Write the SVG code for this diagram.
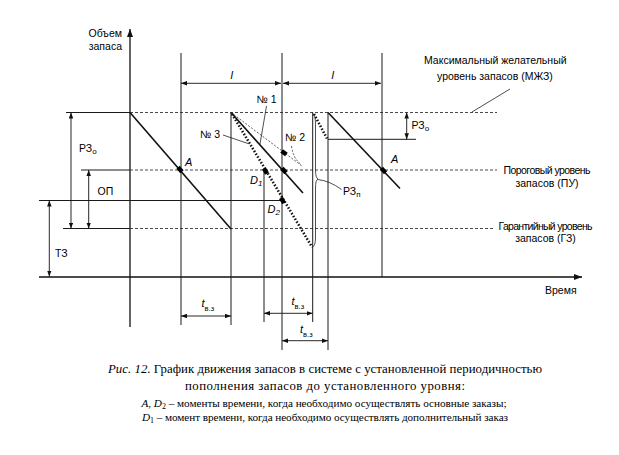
<svg xmlns="http://www.w3.org/2000/svg" width="619" height="455" viewBox="0 0 619 455">
<style>
.bg{fill:#fff}
.ax{stroke:#111;stroke-width:1.3;fill:none}
.ln{stroke:#1a1a1a;stroke-width:1;fill:none}
.th{stroke:#111;stroke-width:1.6;fill:none}
.ds{stroke:#333;stroke-width:0.9;fill:none;stroke-dasharray:3 2}
.dt{stroke:#111;stroke-width:2.6;fill:none;stroke-dasharray:1.5 1.8}
.tn{stroke:#333;stroke-width:0.8;fill:none;stroke-dasharray:2 1.6}
.ld{stroke:#222;stroke-width:0.8;fill:none}
.dim{stroke:#111;stroke-width:0.9;fill:none;marker-start:url(#ah);marker-end:url(#ah)}
.mk{fill:#000}
.t{font-family:"Liberation Sans",Arial,sans-serif;font-size:10.5px;fill:#000}
.ti{font-family:"Liberation Sans",Arial,sans-serif;font-size:11px;font-style:italic;fill:#000}
.cap{font-family:"Liberation Serif","Times New Roman",serif;fill:#000}
</style>
<defs>
<marker id="ah" viewBox="0 0 8 6" refX="8" refY="3" markerWidth="6" markerHeight="4.5" markerUnits="userSpaceOnUse" orient="auto-start-reverse">
<path d="M0,0 L8,3 L0,6 z" fill="#111"/>
</marker>
<marker id="axh" viewBox="0 0 8 6" refX="8" refY="3" markerWidth="8" markerHeight="6" markerUnits="userSpaceOnUse" orient="auto">
<path d="M0,0 L8,3 L0,6 z" fill="#111"/>
</marker>
</defs>
<rect class="bg" x="0" y="0" width="619" height="455"/>

<g id="axes">
<line class="ax" x1="130" y1="327" x2="130" y2="29" marker-end="url(#axh)"/>
<line class="ax" x1="39" y1="277" x2="582" y2="277" marker-end="url(#axh)"/>
<text class="t" x="122" y="37" text-anchor="end">Объем</text>
<text class="t" x="122" y="49.5" text-anchor="end">запаса</text>
<text class="t" x="545" y="293.5">Время</text>
</g>

<g id="levels">
<line class="ln" x1="66" y1="112.5" x2="130" y2="112.5"/>
<line class="ds" x1="130" y1="112.5" x2="497" y2="112.5"/>
<line class="ln" x1="81" y1="170" x2="130" y2="170"/>
<line class="ds" x1="130" y1="170" x2="497" y2="170"/>
<line class="ln" x1="39" y1="200.5" x2="282" y2="200.5"/>
<line class="ln" x1="63" y1="228.5" x2="130" y2="228.5"/>
<line class="ds" x1="130" y1="228.5" x2="495" y2="228.5"/>
<line class="ln" x1="328" y1="139.3" x2="416" y2="139.3"/>
</g>

<g id="verticals">
<line class="ln" x1="181" y1="53" x2="181" y2="325"/>
<line class="ln" x1="231" y1="112.5" x2="231" y2="325"/>
<line class="ln" x1="264" y1="170" x2="264" y2="322"/>
<line class="ln" x1="282" y1="53" x2="282" y2="350"/>
<line class="ln" x1="312.7" y1="112.5" x2="312.7" y2="322"/>
<line class="ln" x1="328" y1="112.5" x2="328" y2="350"/>
<line class="ln" x1="382" y1="53" x2="382" y2="277"/>
</g>

<g id="stock-lines">
<line class="th" x1="130" y1="112.5" x2="231" y2="229"/>
<line class="th" x1="231" y1="112.5" x2="303" y2="193"/>
<line class="th" x1="328" y1="112.5" x2="400" y2="188.5"/>
<line class="tn" x1="231" y1="112.5" x2="302" y2="166"/>
<line class="dt" x1="232" y1="114" x2="312" y2="247"/>
<line class="dt" x1="314" y1="114" x2="327" y2="138.5"/>
<path class="ld" d="M312.7,113.5 Q315.5,115 315.5,124 L315.5,170 Q315.5,178 318,179 Q315.5,180 315.5,188 L315.5,238 Q315.5,246 312,247.5"/>
</g>

<g id="points">
<rect class="mk" x="-3" y="-2.2" width="6" height="4.4" transform="translate(180,169.5) rotate(49)"/>
<rect class="mk" x="-3" y="-2.2" width="6" height="4.4" transform="translate(284,170.5) rotate(48)"/>
<rect class="mk" x="-3" y="-2.2" width="6" height="4.4" transform="translate(284,152.7) rotate(37)"/>
<rect class="mk" x="-3" y="-2.2" width="6" height="4.4" transform="translate(265.5,171) rotate(59)"/>
<rect class="mk" x="-3" y="-2.2" width="6" height="4.4" transform="translate(282.5,200.5) rotate(59)"/>
<rect class="mk" x="-3" y="-2.2" width="6" height="4.4" transform="translate(383.5,170.5) rotate(46)"/>
<text class="ti" x="185" y="166">A</text>
<text class="ti" x="391" y="163">A</text>
<text class="ti" x="250" y="183.5">D<tspan font-size="8" dy="2.5">1</tspan></text>
<text class="ti" x="267.5" y="212.5">D<tspan font-size="8" dy="2.5">2</tspan></text>
</g>

<g id="labels">
<text class="t" x="256.5" y="103">№ 1</text>
<path class="ld" d="M266.5,106 L260,144"/>
<text class="t" x="285" y="141">№ 2</text>
<path class="tn" d="M291.5,146 Q293,158 300.5,164"/>
<text class="t" x="200" y="137.5">№ 3</text>
<path class="ld" d="M223,135 L248,143.5"/>
<text class="t" x="343" y="195">РЗ<tspan font-size="8" dy="2">п</tspan></text>
<path class="ld" d="M318,179.5 Q330,181 341.5,189.5"/>
<text class="t" x="424" y="64">Максимальный желательный</text>
<text class="t" x="437" y="79.5">уровень запасов (МЖЗ)</text>
<line class="ld" x1="510" y1="89" x2="472" y2="112"/>
<text class="t" x="547" y="174" text-anchor="middle" textLength="87">Пороговый уровень</text>
<text class="t" x="547" y="186.5" text-anchor="middle">запасов (ПУ)</text>
<text class="t" x="545.5" y="229.5" text-anchor="middle" textLength="94">Гарантийный уровень</text>
<text class="t" x="545.5" y="242" text-anchor="middle">запасов (ГЗ)</text>
</g>

<g id="dimensions">
<line class="dim" x1="181" y1="83.3" x2="281" y2="83.3"/>
<line class="dim" x1="283" y1="83.3" x2="381" y2="83.3"/>
<text class="ti" x="230.5" y="79">l</text>
<text class="ti" x="331.5" y="79">l</text>
<line class="dim" x1="49.3" y1="200.5" x2="49.3" y2="276.5"/>
<text class="t" x="55" y="257">ТЗ</text>
<line class="dim" x1="88.7" y1="170" x2="88.7" y2="228.5"/>
<text class="t" x="97.5" y="195">ОП</text>
<line class="dim" x1="71" y1="112.5" x2="71" y2="228.5"/>
<text class="t" x="79" y="152">РЗ<tspan font-size="8" dy="2">о</tspan></text>
<line class="dim" x1="406.7" y1="112.5" x2="406.7" y2="139.3"/>
<text class="t" x="411.5" y="128.5">РЗ<tspan font-size="8" dy="2">о</tspan></text>
<line class="dim" x1="181" y1="316" x2="231" y2="316"/>
<text class="ti" x="201.5" y="307">t<tspan font-size="7.5" font-style="normal" dy="3.5">в.з</tspan></text>
<line class="dim" x1="264" y1="313.3" x2="312.7" y2="313.3"/>
<text class="ti" x="291.5" y="305">t<tspan font-size="7.5" font-style="normal" dy="3.5">в.з</tspan></text>
<line class="dim" x1="282" y1="340.7" x2="328" y2="340.7"/>
<text class="ti" x="300" y="333">t<tspan font-size="7.5" font-style="normal" dy="3.5">в.з</tspan></text>
</g>

<g id="caption">
<text class="cap" x="325" y="372.5" text-anchor="middle" font-size="12.8" textLength="434"><tspan font-style="italic">Рис. 12.</tspan> График движения запасов в системе с установленной периодичностью</text>
<text class="cap" x="325" y="390" text-anchor="middle" font-size="12.8" textLength="280">пополнения запасов до установленного уровня:</text>
<text class="cap" x="324" y="406.5" text-anchor="middle" font-size="11.2" textLength="365"><tspan font-style="italic">A</tspan>, <tspan font-style="italic">D</tspan><tspan font-size="8" dy="2">2</tspan><tspan dy="-2"> – моменты времени, когда необходимо осуществлять основные заказы;</tspan></text>
<text class="cap" x="325" y="420.5" text-anchor="middle" font-size="11.2" textLength="366"><tspan font-style="italic">D</tspan><tspan font-size="8" dy="2">1</tspan><tspan dy="-2"> – момент времени, когда необходимо осуществлять дополнительный заказ</tspan></text>
</g>
</svg>
